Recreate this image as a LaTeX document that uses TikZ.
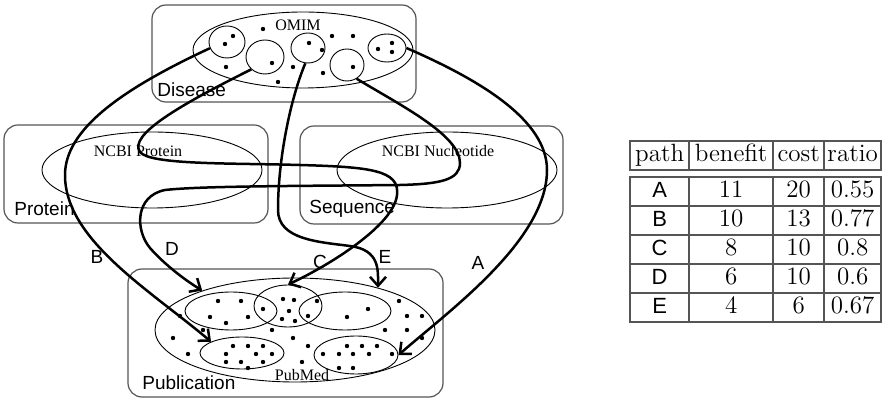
\documentclass[tikz,border=0pt]{standalone}
\usepackage{fontspec}
\newfontfamily\arialish{Liberation Sans}
\newfontfamily\timesish{Liberation Serif}
\definecolor{boxgray}{RGB}{85,85,85}
\usetikzlibrary{arrows.meta,shapes.geometric,matrix}

\begin{document}
\begin{tikzpicture}[x=0.5pt,y=-0.5pt,
  box/.style={draw=boxgray,rounded corners=7pt,line width=0.6pt,inner sep=0pt},
  set/.style={draw,ellipse,inner sep=0pt,line width=0.45pt},
  route/.style={line width=1.25pt,-{Straight Barb[length=4.5pt,width=8pt]}},
  tag/.style={font=\arialish\fontsize{9.5}{10}\selectfont,inner sep=0pt},
  dbname/.style={font=\timesish\fontsize{8}{9}\selectfont,inner sep=0pt}]
  \useasboundingbox (0,0) rectangle (884,400);
  % Sources
  \node[box,minimum width=132pt,minimum height=48.5pt] (disease) at (284,53.5) {};
  \node[box,minimum width=132pt,minimum height=49pt] (protein) at (136,174) {};
  \node[box,minimum width=131.5pt,minimum height=49pt] (sequence) at (431.5,175) {};
  \node[box,minimum width=157.5pt,minimum height=64pt] (publication) at (285.5,333) {};
  \node[tag,anchor=west] (diseaseLbl) at (157,90) {Disease};
  \node[tag,anchor=west] (proteinLbl) at (14,209) {Protein};
  \node[tag,anchor=west] (sequenceLbl) at (309,209) {Sequence};
  \node[tag,anchor=west] (publicationLbl) at (142,383) {Publication};
  % Databases
  \node[set,minimum width=110pt,minimum height=38pt] (omim) at (303,50) {};
  \node[set,minimum width=110pt,minimum height=38pt] (ncbiprot) at (152,170) {};
  \node[set,minimum width=110pt,minimum height=38pt] (ncbinuc) at (447,170) {};
  \node[set,minimum width=140pt,minimum height=52pt] (pubmed) at (295,330) {};
  \node[dbname] (omimLbl) at (298,25) {OMIM};
  \node[dbname] (ncbiprotLbl) at (138,151) {NCBI Protein};
  \node[dbname] (ncbinucLbl) at (438,151) {NCBI Nucleotide};
  \node[dbname] (pubmedLbl) at (302,375) {PubMed};
  % Record groups
  \node[set,minimum width=18pt,minimum height=16pt] (om1) at (227,42) {};
  \node[set,minimum width=19pt,minimum height=17pt] (om2) at (265,57) {};
  \node[set,minimum width=17pt,minimum height=15pt] (om3) at (308,48) {};
  \node[set,minimum width=17pt,minimum height=16pt] (om4) at (347,65) {};
  \node[set,minimum width=19pt,minimum height=14pt] (om5) at (387,48) {};
  \node[set,minimum width=46pt,minimum height=19pt] (pm1) at (231,311) {};
  \node[set,minimum width=34pt,minimum height=21pt] (pm2) at (288,306) {};
  \node[set,minimum width=46pt,minimum height=19pt] (pm3) at (345,311) {};
  \node[set,minimum width=42pt,minimum height=16pt] (pm4) at (242,353) {};
  \node[set,minimum width=42pt,minimum height=19pt] (pm5) at (356,355) {};
  % Records
  \foreach \x/\y in {233/36,225/44,272/63,309/43,322/50,353/67,378/49,392/43,392/52,
    263/29,332/36,353/36,226/67,293/67,323/73,278/82}
    \fill (\x,\y) circle (1.1pt);
  \foreach \x/\y in {218/301,241/301,263/309,210/317,226/323,248/317,283/299,294/300,
    289/311,282/319,295/321,317/301,308/316,347/317,368/309,399/301,407/316,422/316,
    180/316,173/338,203/330,272/330,293/338,308/346,385/330,407/330,422/338,188/354,
    302/362,233/346,248/346,263/346,226/354,256/354,272/354,226/362,241/362,263/362,
    248/368,347/346,362/346,377/346,323/354,339/354,353/354,369/354,392/354,339/368,353/368}
    \fill (\x,\y) circle (1.1pt);
  % Paths
  \draw[route] (om5.east) .. controls (480,80) and (547,120) .. (547,170)
    .. controls (547,240) and (450,310) .. (pm5.east);
  \draw[route] (om1.200) .. controls (120,90) and (65,130) .. (65,175)
    .. controls (65,240) and (150,290) .. (pm4.160);
  \draw[route] (om2.222) .. controls (180,105) and (128,135) .. (140,152)
    .. controls (150,165) and (230,163) .. (300,165)
    .. controls (370,167) and (400,170) .. (397,195)
    .. controls (394,225) and (330,265) .. (pm2.north);
  \draw[route] (om4.-55) .. controls (400,105) and (460,135) .. (460,163)
    .. controls (460,180) and (440,184) .. (400,185)
    .. controls (300,186) and (200,186) .. (165,190)
    .. controls (135,196) and (135,230) .. (150,248)
    .. controls (165,265) and (185,280) .. (pubmed.157);
  \draw[route] (om3.-100) .. controls (290,100) and (278,160) .. (278,210)
    .. controls (278,240) and (320,242) .. (350,246)
    .. controls (380,250) and (378,270) .. (pubmed.27);
  \node[tag] (lblA) at (478,263) {A};
  \node[tag] (lblB) at (97,257) {B};
  \node[tag] (lblC) at (320,262) {C};
  \node[tag] (lblD) at (172,249) {D};
  \node[tag] (lblE) at (385,257) {E};
  % Table
  \matrix (tbl) [matrix of nodes,anchor=north west,inner sep=0pt,
    column sep=-0.75pt,row sep=-0.75pt,
    nodes={draw=boxgray,line width=0.75pt,minimum height=14.5pt,inner sep=0pt,
      text height=8.5pt,text depth=2.5pt,font=\fontsize{12.5}{14}\selectfont},
    column 1/.style={nodes={minimum width=29.5pt,font=\arialish\fontsize{11}{13}\selectfont}},
    column 2/.style={nodes={minimum width=42pt}},
    column 3/.style={nodes={minimum width=25.5pt}},
    column 4/.style={nodes={minimum width=28.5pt}}] at (629,140) {
    |[font=\fontsize{12.5}{14}\selectfont]| path & benefit & cost & ratio \\[3.5pt]
    A & 11 & 20 & 0.55 \\
    B & 10 & 13 & 0.77 \\
    C & 8 & 10 & 0.8 \\
    D & 6 & 10 & 0.6 \\
    E & 4 & 6 & 0.67 \\
  };
\end{tikzpicture}
\end{document}
